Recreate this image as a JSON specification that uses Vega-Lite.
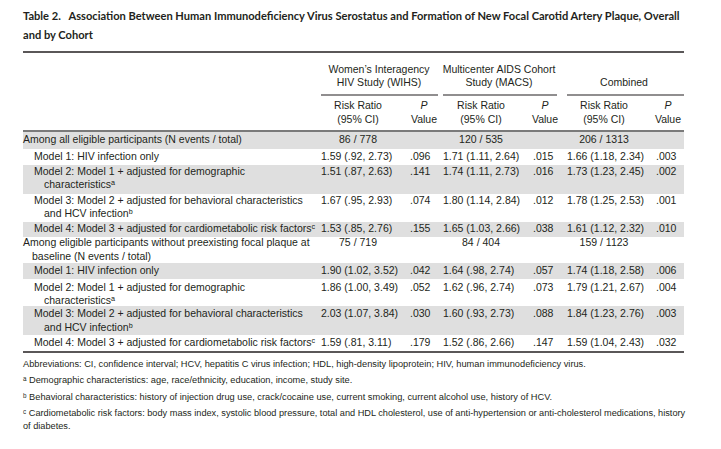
{
  "$schema": "https://vega.github.io/schema/vega-lite/v6.json",
  "width": 721,
  "height": 449,
  "autosize": {"type": "fit", "contains": "padding"},
  "padding": 0,
  "background": "white",
  "config": {"view": {"stroke": null}},
  "datasets": {
    "bands": [
      {"r1": 9, "r2": 11, "c1": 0, "c2": 21},
      {"r1": 13, "r2": 16, "c1": 0, "c2": 21},
      {"r1": 19, "r2": 21, "c1": 0, "c2": 21},
      {"r1": 24, "r2": 26, "c1": 0, "c2": 21},
      {"r1": 29, "r2": 32, "c1": 0, "c2": 21}
    ],
    "rules": [
      {"kind": "heavy", "c1": 0, "c2": 21, "r": 2},
      {"kind": "heavy", "c1": 0, "c2": 21, "r": 34},
      {"kind": "group", "c1": 4, "c2": 9, "r": 5},
      {"kind": "group", "c1": 10, "c2": 15, "r": 5},
      {"kind": "group", "c1": 16, "c2": 21, "r": 5},
      {"kind": "header", "c1": 0, "c2": 21, "r": 8}
    ],
    "cells": [
      {"role": "title", "c": 0, "r": 0, "t": "Table 2.\u00a0\u00a0\u00a0Association Between Human Immunodeficiency Virus Serostatus and Formation of New Focal Carotid Artery Plaque, Overall"},
      {"role": "title", "c": 0, "r": 1, "t": "and by Cohort"},
      {"role": "center", "c": 6, "r": 3, "t": "Women’s Interagency"},
      {"role": "center", "c": 6, "r": 4, "t": "HIV Study (WIHS)"},
      {"role": "center", "c": 12, "r": 3, "t": "Multicenter AIDS Cohort"},
      {"role": "center", "c": 12, "r": 4, "t": "Study (MACS)"},
      {"role": "center", "c": 18, "r": 4, "t": "Combined"},
      {"role": "center", "c": 5, "r": 6, "t": "Risk Ratio"},
      {"role": "center", "c": 5, "r": 7, "t": "(95% CI)"},
      {"role": "italic", "c": 8, "r": 6, "t": "P"},
      {"role": "center", "c": 8, "r": 7, "t": "Value"},
      {"role": "center", "c": 11, "r": 6, "t": "Risk Ratio"},
      {"role": "center", "c": 11, "r": 7, "t": "(95% CI)"},
      {"role": "italic", "c": 14, "r": 6, "t": "P"},
      {"role": "center", "c": 14, "r": 7, "t": "Value"},
      {"role": "center", "c": 17, "r": 6, "t": "Risk Ratio"},
      {"role": "center", "c": 17, "r": 7, "t": "(95% CI)"},
      {"role": "italic", "c": 20, "r": 6, "t": "P"},
      {"role": "center", "c": 20, "r": 7, "t": "Value"},

      {"role": "left", "c": 0, "r": 10, "t": "Among all eligible participants (N events / total)"},
      {"role": "left", "c": 2, "r": 12, "t": "Model 1: HIV infection only"},
      {"role": "left", "c": 2, "r": 14, "t": "Model 2: Model 1 + adjusted for demographic"},
      {"role": "left", "c": 3, "r": 15, "t": "characteristicsᵃ"},
      {"role": "left", "c": 2, "r": 17, "t": "Model 3: Model 2 + adjusted for behavioral characteristics"},
      {"role": "left", "c": 3, "r": 18, "t": "and HCV infectionᵇ"},
      {"role": "left", "c": 2, "r": 20, "t": "Model 4: Model 3 + adjusted for cardiometabolic risk factorsᶜ"},
      {"role": "left", "c": 0, "r": 22, "t": "Among eligible participants without preexisting focal plaque at"},
      {"role": "left", "c": 1, "r": 23, "t": "baseline (N events / total)"},
      {"role": "left", "c": 2, "r": 25, "t": "Model 1: HIV infection only"},
      {"role": "left", "c": 2, "r": 27, "t": "Model 2: Model 1 + adjusted for demographic"},
      {"role": "left", "c": 3, "r": 28, "t": "characteristicsᵃ"},
      {"role": "left", "c": 2, "r": 30, "t": "Model 3: Model 2 + adjusted for behavioral characteristics"},
      {"role": "left", "c": 3, "r": 31, "t": "and HCV infectionᵇ"},
      {"role": "left", "c": 2, "r": 33, "t": "Model 4: Model 3 + adjusted for cardiometabolic risk factorsᶜ"},

      {"role": "center", "c": 5, "r": 10, "t": "86 / 778"},
      {"role": "center", "c": 11, "r": 10, "t": "120 / 535"},
      {"role": "center", "c": 17, "r": 10, "t": "206 / 1313"},
      {"role": "center", "c": 5, "r": 22, "t": "75 / 719"},
      {"role": "center", "c": 11, "r": 22, "t": "84 / 404"},
      {"role": "center", "c": 17, "r": 22, "t": "159 / 1123"},

      {"role": "left", "c": 4, "r": 12, "t": "1.59 (.92, 2.73)"},
      {"role": "left", "c": 7, "r": 12, "t": ".096"},
      {"role": "left", "c": 10, "r": 12, "t": "1.71 (1.11, 2.64)"},
      {"role": "left", "c": 13, "r": 12, "t": ".015"},
      {"role": "left", "c": 16, "r": 12, "t": "1.66 (1.18, 2.34)"},
      {"role": "left", "c": 19, "r": 12, "t": ".003"},

      {"role": "left", "c": 4, "r": 14, "t": "1.51 (.87, 2.63)"},
      {"role": "left", "c": 7, "r": 14, "t": ".141"},
      {"role": "left", "c": 10, "r": 14, "t": "1.74 (1.11, 2.73)"},
      {"role": "left", "c": 13, "r": 14, "t": ".016"},
      {"role": "left", "c": 16, "r": 14, "t": "1.73 (1.23, 2.45)"},
      {"role": "left", "c": 19, "r": 14, "t": ".002"},

      {"role": "left", "c": 4, "r": 17, "t": "1.67 (.95, 2.93)"},
      {"role": "left", "c": 7, "r": 17, "t": ".074"},
      {"role": "left", "c": 10, "r": 17, "t": "1.80 (1.14, 2.84)"},
      {"role": "left", "c": 13, "r": 17, "t": ".012"},
      {"role": "left", "c": 16, "r": 17, "t": "1.78 (1.25, 2.53)"},
      {"role": "left", "c": 19, "r": 17, "t": ".001"},

      {"role": "left", "c": 4, "r": 20, "t": "1.53 (.85, 2.76)"},
      {"role": "left", "c": 7, "r": 20, "t": ".155"},
      {"role": "left", "c": 10, "r": 20, "t": "1.65 (1.03, 2.66)"},
      {"role": "left", "c": 13, "r": 20, "t": ".038"},
      {"role": "left", "c": 16, "r": 20, "t": "1.61 (1.12, 2.32)"},
      {"role": "left", "c": 19, "r": 20, "t": ".010"},

      {"role": "left", "c": 4, "r": 25, "t": "1.90 (1.02, 3.52)"},
      {"role": "left", "c": 7, "r": 25, "t": ".042"},
      {"role": "left", "c": 10, "r": 25, "t": "1.64 (.98, 2.74)"},
      {"role": "left", "c": 13, "r": 25, "t": ".057"},
      {"role": "left", "c": 16, "r": 25, "t": "1.74 (1.18, 2.58)"},
      {"role": "left", "c": 19, "r": 25, "t": ".006"},

      {"role": "left", "c": 4, "r": 27, "t": "1.86 (1.00, 3.49)"},
      {"role": "left", "c": 7, "r": 27, "t": ".052"},
      {"role": "left", "c": 10, "r": 27, "t": "1.62 (.96, 2.74)"},
      {"role": "left", "c": 13, "r": 27, "t": ".073"},
      {"role": "left", "c": 16, "r": 27, "t": "1.79 (1.21, 2.67)"},
      {"role": "left", "c": 19, "r": 27, "t": ".004"},

      {"role": "left", "c": 4, "r": 30, "t": "2.03 (1.07, 3.84)"},
      {"role": "left", "c": 7, "r": 30, "t": ".030"},
      {"role": "left", "c": 10, "r": 30, "t": "1.60 (.93, 2.73)"},
      {"role": "left", "c": 13, "r": 30, "t": ".088"},
      {"role": "left", "c": 16, "r": 30, "t": "1.84 (1.23, 2.76)"},
      {"role": "left", "c": 19, "r": 30, "t": ".003"},

      {"role": "left", "c": 4, "r": 33, "t": "1.59 (.81, 3.11)"},
      {"role": "left", "c": 7, "r": 33, "t": ".179"},
      {"role": "left", "c": 10, "r": 33, "t": "1.52 (.86, 2.66)"},
      {"role": "left", "c": 13, "r": 33, "t": ".147"},
      {"role": "left", "c": 16, "r": 33, "t": "1.59 (1.04, 2.43)"},
      {"role": "left", "c": 19, "r": 33, "t": ".032"},

      {"role": "note", "c": 0, "r": 35, "t": "Abbreviations: CI, confidence interval; HCV, hepatitis C virus infection; HDL, high-density lipoprotein; HIV, human immunodeficiency virus."},
      {"role": "note", "c": 0, "r": 36, "t": "ᵃ Demographic characteristics: age, race/ethnicity, education, income, study site."},
      {"role": "note", "c": 0, "r": 37, "t": "ᵇ Behavioral characteristics: history of injection drug use, crack/cocaine use, current smoking, current alcohol use, history of HCV."},
      {"role": "noteNarrow", "c": 0, "r": 38, "t": "ᶜ Cardiometabolic risk factors: body mass index, systolic blood pressure, total and HDL cholesterol, use of anti-hypertension or anti-cholesterol medications, history"},
      {"role": "noteNarrow", "c": 0, "r": 39, "t": "of diabetes."}
    ]
  },
  "layer": [
    {
      "data": {"name": "bands"},
      "mark": {"type": "rect", "color": "#dfdfdf"},
      "encoding": {
        "x": {"field": "c1", "type": "quantitative", "axis": null, "scale": {"type": "linear", "nice": false, "zero": false, "domain": [0,1,2,3,4,5,6,7,8,9,10,11,12,13,14,15,16,17,18,19,20,21,22], "range": [23,32,34,44,321,358,379,410,424,438,443,481,499,533,545,557,567,604,624,656,668,684,721]}},
        "x2": {"field": "c2"},
        "y": {"field": "r1", "type": "quantitative", "axis": null, "scale": {"type": "linear", "nice": false, "zero": false, "domain": [0,1,2,3,4,5,6,7,8,9,10,11,12,13,14,15,16,17,18,19,20,21,22,23,24,25,26,27,28,29,30,31,32,33,34,35,36,37,38,39,40], "range": [17,36,52,70,83,95,106,120,131,132,140,149,157,165,172,185,194,201,214,222,229,237,243,257,263,271,279,288,301,306,314,328,335,343,352,364,380,397,413,426,449]}},
        "y2": {"field": "r2"}
      }
    },
    {
      "data": {"name": "rules"},
      "transform": [{"filter": "datum.kind === 'heavy'"}],
      "mark": {"type": "rule", "color": "#231f20", "strokeWidth": 1.6},
      "encoding": {
        "x": {"field": "c1", "type": "quantitative"},
        "x2": {"field": "c2"},
        "y": {"field": "r", "type": "quantitative"}
      }
    },
    {
      "data": {"name": "rules"},
      "transform": [{"filter": "datum.kind === 'group'"}],
      "mark": {"type": "rule", "color": "#231f20", "strokeWidth": 1.1},
      "encoding": {
        "x": {"field": "c1", "type": "quantitative"},
        "x2": {"field": "c2"},
        "y": {"field": "r", "type": "quantitative"}
      }
    },
    {
      "data": {"name": "rules"},
      "transform": [{"filter": "datum.kind === 'header'"}],
      "mark": {"type": "rule", "color": "#7a7a7a", "strokeWidth": 2},
      "encoding": {
        "x": {"field": "c1", "type": "quantitative"},
        "x2": {"field": "c2"},
        "y": {"field": "r", "type": "quantitative"}
      }
    },
    {
      "data": {"name": "cells"},
      "transform": [{"filter": "datum.role === 'title'"}],
      "mark": {"type": "text", "align": "left", "baseline": "middle", "font": "Lato", "fontWeight": "bold", "fontSize": 11.1, "color": "#231f20"},
      "encoding": {
        "x": {"field": "c", "type": "quantitative"},
        "y": {"field": "r", "type": "quantitative"},
        "text": {"field": "t"}
      }
    },
    {
      "data": {"name": "cells"},
      "transform": [{"filter": "datum.role === 'center'"}],
      "mark": {"type": "text", "align": "center", "baseline": "middle", "font": "Liberation Sans, Arial, sans-serif", "fontSize": 10.5, "color": "#231f20"},
      "encoding": {
        "x": {"field": "c", "type": "quantitative"},
        "y": {"field": "r", "type": "quantitative"},
        "text": {"field": "t"}
      }
    },
    {
      "data": {"name": "cells"},
      "transform": [{"filter": "datum.role === 'italic'"}],
      "mark": {"type": "text", "align": "center", "baseline": "middle", "font": "Liberation Sans, Arial, sans-serif", "fontStyle": "italic", "fontSize": 10.5, "color": "#231f20"},
      "encoding": {
        "x": {"field": "c", "type": "quantitative"},
        "y": {"field": "r", "type": "quantitative"},
        "text": {"field": "t"}
      }
    },
    {
      "data": {"name": "cells"},
      "transform": [{"filter": "datum.role === 'left'"}],
      "mark": {"type": "text", "align": "left", "baseline": "middle", "font": "Liberation Sans, Arial, sans-serif", "fontSize": 10.5, "color": "#231f20"},
      "encoding": {
        "x": {"field": "c", "type": "quantitative"},
        "y": {"field": "r", "type": "quantitative"},
        "text": {"field": "t"}
      }
    },
    {
      "data": {"name": "cells"},
      "transform": [{"filter": "datum.role === 'note'"}],
      "mark": {"type": "text", "align": "left", "baseline": "middle", "font": "Liberation Sans, Arial, sans-serif", "fontSize": 9.25, "color": "#231f20"},
      "encoding": {
        "x": {"field": "c", "type": "quantitative"},
        "y": {"field": "r", "type": "quantitative"},
        "text": {"field": "t"}
      }
    },
    {
      "data": {"name": "cells"},
      "transform": [{"filter": "datum.role === 'noteNarrow'"}],
      "mark": {"type": "text", "align": "left", "baseline": "middle", "font": "Liberation Sans, Arial, sans-serif", "fontSize": 9.2, "color": "#231f20"},
      "encoding": {
        "x": {"field": "c", "type": "quantitative"},
        "y": {"field": "r", "type": "quantitative"},
        "text": {"field": "t"}
      }
    }
  ]
}
